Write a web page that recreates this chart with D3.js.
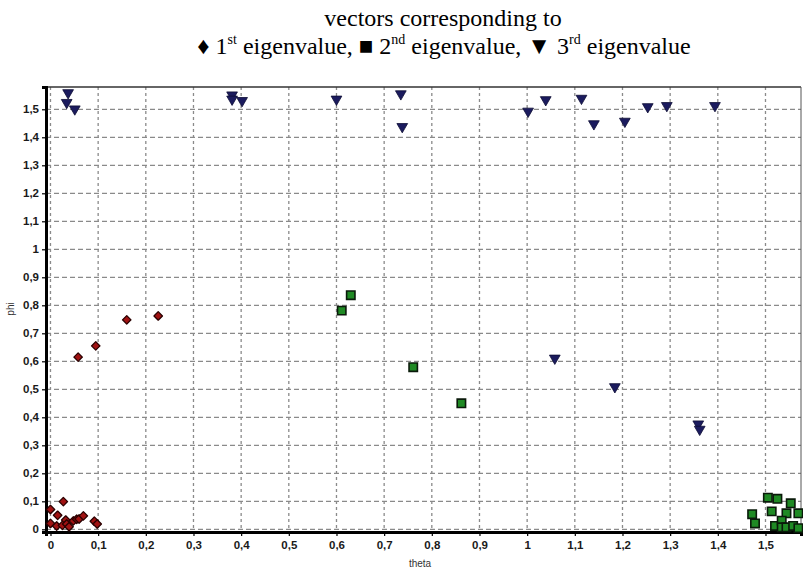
<!DOCTYPE html>
<html><head><meta charset="utf-8">
<script src="https://cdn.jsdelivr.net/npm/d3@7"></script>
<style>body{margin:0;background:#fff}svg{display:block}</style>
</head><body>
<svg id="c" width="803" height="573"></svg>
<script>
// ---- data ----
const first_theta  = [0.000,0.027,0.015,0.000,0.013,0.025,0.032,0.034,0.039,0.048,0.055,0.060,0.069,0.092,0.098,0.058,0.095,0.160,0.226];
const first_phi    = [0.071,0.099,0.050,0.021,0.012,0.014,0.033,0.019,0.009,0.030,0.036,0.037,0.048,0.029,0.019,0.615,0.655,0.748,0.762];
const second_theta = [0.630,0.611,0.761,0.862,1.472,1.478,1.505,1.525,1.553,1.513,1.544,1.569,1.520,1.534,1.534,1.544,1.558,1.569];
const second_phi   = [0.836,0.781,0.579,0.450,0.054,0.021,0.113,0.109,0.093,0.064,0.057,0.057,0.012,0.031,0.007,0.007,0.012,0.004];
const third_theta  = [0.037,0.034,0.051,0.381,0.381,0.402,0.600,0.735,0.738,1.002,1.039,1.114,1.140,1.205,1.253,1.293,1.394,1.058,1.184,1.359,1.362];
const third_phi    = [1.559,1.524,1.501,1.551,1.536,1.531,1.536,1.555,1.438,1.493,1.534,1.539,1.448,1.457,1.509,1.513,1.513,0.611,0.509,0.376,0.357];
const xTicks = d3.range(0, 16).map(i => i / 10);
const yTicks = d3.range(0, 16).map(i => i / 10);
const xDomain = [-0.0094, 1.5745];
const yDomain = [-0.0096, 1.5796];
const fmt = v => (Math.round(v * 10) / 10).toString().replace('.', ',');

// ---- layout ----
const svg = d3.select('#c');
const L = 46, R = 801, T = 87, B = 532;
const x = d3.scaleLinear().domain(xDomain).range([L, R]);
const y = d3.scaleLinear().domain(yDomain).range([B, T]);

// title
const title = svg.append('g').attr('font-family', '"Liberation Serif", "Times New Roman", serif').attr('fill', '#000');
title.append('text').attr('x', 443).attr('y', 26).attr('text-anchor', 'middle').attr('font-size', 24).text('vectors corresponding to');
const t2 = title.append('text').attr('x', 444).attr('y', 54).attr('text-anchor', 'middle').attr('font-size', 24);
const parts = [['\u2666 1',''],['st','sup'],[' eigenvalue, \u25A0 2',''],['nd','sup'],[' eigenvalue, \u25BC 3',''],['rd','sup'],[' eigenvalue','']];
parts.forEach(([s, k], i) => {
  const ts = t2.append('tspan').text(s);
  if (k === 'sup') ts.attr('font-size', 14).attr('dy', -10);
  else if (i > 0) ts.attr('dy', 10);
});

// grid
const grid = svg.append('g').attr('stroke', '#8a8a8a').attr('stroke-width', 1.3);
grid.selectAll('line.h').data(yTicks).join('line')
  .attr('x1', L).attr('x2', R).attr('y1', d => y(d)).attr('y2', d => y(d))
  .attr('stroke-dasharray', '5,3');
grid.selectAll('line.v').data(xTicks).join('line')
  .attr('y1', T).attr('y2', B).attr('x1', d => x(d)).attr('x2', d => x(d))
  .attr('stroke-dasharray', '3,3');

// frame
svg.append('line').attr('x1', L).attr('x2', R).attr('y1', T).attr('y2', T).attr('stroke', '#333').attr('stroke-width', 1.5);
svg.append('line').attr('x1', R).attr('x2', R).attr('y1', T).attr('y2', B).attr('stroke', '#555').attr('stroke-width', 1);

// axes
const xAxis = svg.append('g').attr('transform', `translate(0,${B})`)
  .call(d3.axisBottom(x).tickValues(xTicks).tickFormat(fmt).tickSize(4).tickPadding(5));
const yAxis = svg.append('g').attr('transform', `translate(${L},0)`)
  .call(d3.axisLeft(y).tickValues(yTicks).tickFormat(fmt).tickSize(4).tickPadding(3));
[xAxis, yAxis].forEach(g => {
  g.select('.domain').attr('stroke', '#000').attr('stroke-width', 3);
  g.selectAll('.tick line').attr('stroke', '#000').attr('stroke-width', 1.2);
  g.selectAll('.tick text').attr('font-family', '"Liberation Sans", Arial, sans-serif')
    .attr('font-size', 11.5).attr('font-weight', 'bold').attr('fill', '#1a1a1a');
});
svg.append('text').attr('x', 420).attr('y', 567).attr('text-anchor', 'middle')
  .attr('font-family', '"Liberation Sans", Arial, sans-serif').attr('font-size', 10).attr('fill', '#333').text('theta');
svg.append('text').attr('transform', 'translate(14,309) rotate(-90)').attr('text-anchor', 'middle')
  .attr('font-family', '"Liberation Sans", Arial, sans-serif').attr('font-size', 10).attr('fill', '#333').text('phi');

// markers
const pts = (xs, ys) => xs.map((v, i) => [v, ys[i]]);
const marks = svg.append('g');
marks.selectAll('path.d1').data(pts(first_theta, first_phi)).join('path')
  .attr('d', d3.symbol(d3.symbolSquare, 36)())
  .attr('transform', d => `translate(${x(d[0])},${y(d[1])}) rotate(45)`)
  .attr('fill', '#a01212').attr('stroke', '#2a0000').attr('stroke-width', 1.3).attr('stroke-linejoin', 'round');
marks.selectAll('path.d2').data(pts(second_theta, second_phi)).join('path')
  .attr('d', d3.symbol(d3.symbolSquare, 70)())
  .attr('transform', d => `translate(${x(d[0])},${y(d[1])})`)
  .attr('fill', '#1f8a24').attr('stroke', '#0a1a0a').attr('stroke-width', 1.6);
marks.selectAll('path.d3').data(pts(third_theta, third_phi)).join('path')
  .attr('d', d3.symbol(d3.symbolTriangle, 50)())
  .attr('transform', d => `translate(${x(d[0])},${y(d[1])}) rotate(180)`)
  .attr('fill', '#1b1b5e').attr('stroke', '#0d0d33').attr('stroke-width', 0.8);
</script>
</body></html>
